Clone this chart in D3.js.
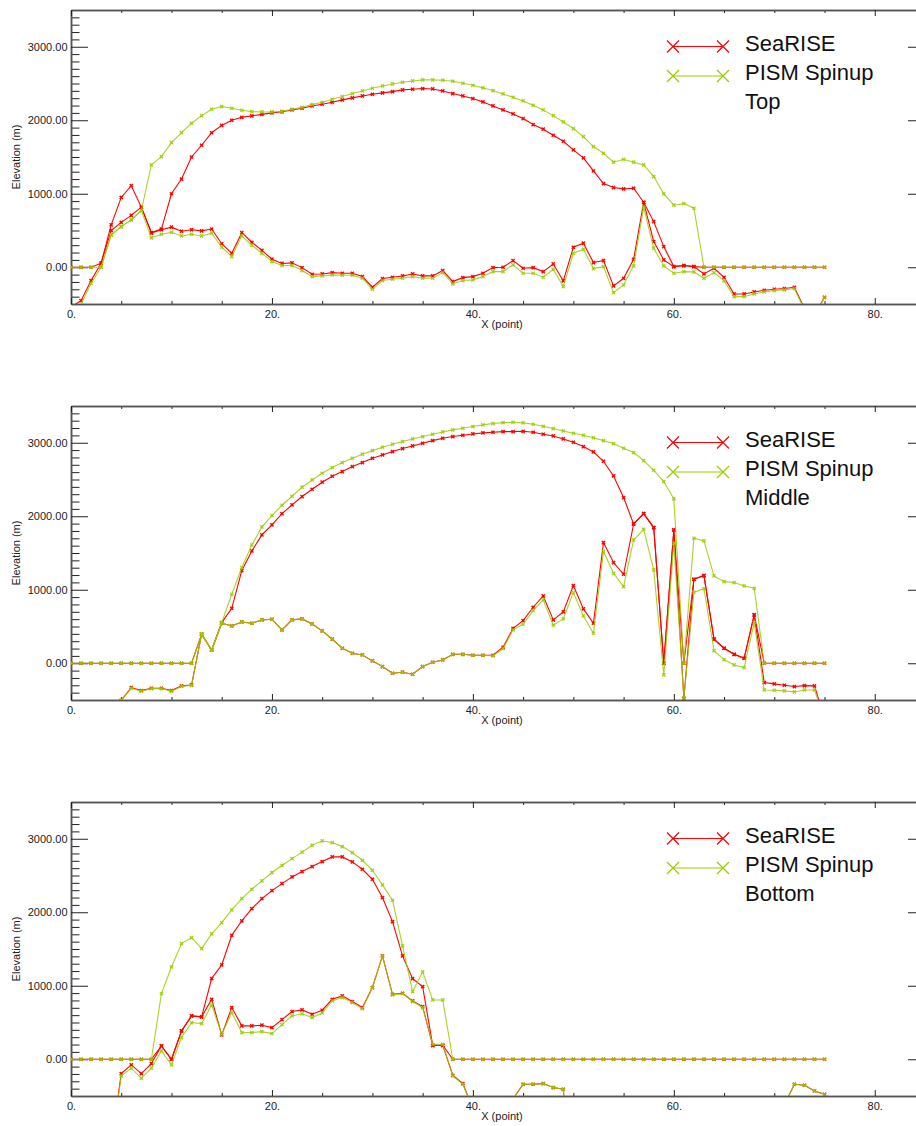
<!DOCTYPE html>
<html>
<head>
<script src="https://cdn.jsdelivr.net/npm/d3@7"></script>
<style>
  body { margin: 0; background: #fff; }
  text { font-family: "Liberation Sans", Arial, Helvetica, sans-serif; }
</style>
</head>
<body>
<div id="chart"></div>
<script>
// elevation profiles, one value per point (x = 0..75)
var searise_top_srf = [0, 0, 0, 55, 577, 950, 1110, 818, 473, 520,
  1000, 1200, 1500, 1660, 1830, 1930, 2000, 2040, 2060, 2080,
  2100, 2115, 2140, 2163, 2195, 2218, 2245, 2277, 2304, 2331,
  2354, 2372, 2390, 2413, 2422, 2431, 2426, 2399, 2363, 2331,
  2295, 2249, 2195, 2141, 2086, 2023, 1941, 1878, 1796, 1714,
  1596, 1488, 1311, 1138, 1084, 1066, 1075, 884, 621, 281,
  9, 23, 9, 0, 0, 0, 0, 0, 0, 0,
  0, 0, 0, 0, 0, 0];
var searise_top_bed = [-540, -455, -180, 55, 500, 610, 705, 818, 465, 510,
  545, 490, 510, 495, 520, 320, 190, 470, 340, 230,
  110, 52, 60, -5, -95, -91, -73, -82, -82, -127,
  -272, -154, -136, -118, -91, -118, -118, -45, -195, -141,
  -127, -82, -5, 0, 91, -14, -5, -59, 45, -186,
  272, 327, 63, 91, -254, -150, 109, 884, 349, 100,
  9, 23, 9, -91, -14, -136, -363, -363, -336, -313,
  -299, -290, -272, -560, -640, -410];
var pism_top_srf = [0, 0, 0, 0, 440, 553, 644, 771, 1392, 1506,
  1696, 1832, 1959, 2063, 2150, 2186, 2163, 2136, 2118, 2113,
  2113, 2122, 2150, 2177, 2213, 2245, 2286, 2322, 2363, 2399,
  2435, 2467, 2494, 2517, 2535, 2549, 2549, 2544, 2531, 2503,
  2476, 2440, 2404, 2358, 2313, 2263, 2204, 2141, 2063, 1977,
  1887, 1778, 1642, 1551, 1429, 1469, 1429, 1392, 1234, 998,
  844, 866, 803, 0, 0, 0, 0, 0, 0, 0,
  0, 0, 0, 0, 0, 0];
var pism_top_bed = [-580, -500, -220, 0, 440, 553, 644, 771, 400, 449,
  476, 426, 449, 426, 463, 272, 145, 426, 299, 190,
  77, 23, 23, -45, -127, -118, -104, -109, -109, -150,
  -299, -181, -163, -150, -127, -150, -150, -73, -227, -181,
  -172, -127, -59, -59, 32, -82, -82, -136, -27, -263,
  190, 245, -18, 9, -345, -240, 18, 816, 259, 18,
  -82, -59, -63, -150, -73, -186, -399, -399, -363, -336,
  -317, -308, -290, -580, -660, -410];

var searise_mid_srf = [0, 0, 0, 0, 0, 0, 0, 0, 0, 0,
  0, 0, 0, 395, 181, 553, 748, 1261, 1528, 1746,
  1882, 2036, 2154, 2268, 2367, 2463, 2544, 2608, 2676, 2730,
  2789, 2834, 2880, 2921, 2957, 2993, 3029, 3061, 3084, 3102,
  3120, 3134, 3143, 3152, 3152, 3156, 3143, 3116, 3093, 3052,
  3007, 2948, 2875, 2748, 2549, 2254, 1896, 2036, 1846, 0,
  1814, 0, 1143, 1193, 327, 204, 122, 68, 658, 0,
  0, 0, 0, 0, 0, 0];
var searise_mid_bed = [-900, -880, -850, -800, -700, -505, -331, -372, -340, -340,
  -372, -308, -295, 395, 181, 544, 508, 562, 544, 590,
  599, 454, 590, 603, 535, 440, 327, 204, 136, 113,
  32, -45, -136, -122, -150, -45, 14, 45, 122, 122,
  109, 109, 109, 218, 476, 580, 762, 916, 590, 698,
  1057, 739, 544, 1642, 1370, 1211, 1896, 2036, 1846, 0,
  1814, -480, 1143, 1193, 327, 204, 122, 68, 658, -263,
  -281, -299, -317, -304, -308, -750];
var pism_mid_srf = [0, 0, 0, 0, 0, 0, 0, 0, 0, 0,
  0, 0, 0, 395, 181, 553, 939, 1302, 1610, 1855,
  2009, 2150, 2272, 2395, 2494, 2585, 2662, 2730, 2789, 2844,
  2893, 2939, 2980, 3016, 3052, 3084, 3116, 3147, 3175, 3197,
  3220, 3243, 3261, 3274, 3279, 3270, 3252, 3224, 3193, 3161,
  3129, 3102, 3068, 3029, 2989, 2925, 2866, 2757, 2626, 2472,
  2236, 0, 1701, 1664, 1188, 1110, 1098, 1052, 1020, 0,
  0, 0, 0, 0, 0, 0];
var pism_mid_bed = [-900, -880, -850, -800, -700, -505, -340, -380, -345, -345,
  -380, -315, -300, 395, 181, 544, 508, 562, 544, 590,
  599, 454, 590, 603, 535, 440, 327, 204, 136, 113,
  32, -45, -136, -122, -150, -45, 14, 45, 122, 122,
  109, 109, 100, 200, 454, 531, 717, 862, 517, 603,
  961, 644, 408, 1519, 1224, 1043, 1678, 1823, 1270, -159,
  1633, -470, 966, 1015, 170, 50, -23, -59, 553, -363,
  -367, -376, -390, -363, -363, -760];

var searise_bot_srf = [0, 0, 0, 0, 0, 0, 0, 0, 0, 181,
  0, 385, 590, 576, 1098, 1283, 1687, 1882, 2050, 2186,
  2295, 2390, 2481, 2553, 2621, 2689, 2753, 2753, 2685, 2585,
  2449, 2200, 1873, 1406, 1097, 989, 190, 190, 0, 0,
  0, 0, 0, 0, 0, 0, 0, 0, 0, 0,
  0, 0, 0, 0, 0, 0, 0, 0, 0, 0,
  0, 0, 0, 0, 0, 0, 0, 0, 0, 0,
  0, 0, 0, 0, 0, 0];
var searise_bot_bed = [-1200, -1200, -1200, -1200, -1200, -195, -77, -195, -59, 181,
  0, 385, 590, 576, 816, 331, 703, 454, 454, 463,
  431, 540, 649, 671, 612, 667, 816, 862, 785, 703,
  975, 1406, 884, 898, 794, 717, 190, 190, -218, -331,
  -670, -1000, -1000, -1000, -540, -340, -340, -331, -385, -408,
  -2000, -2000, -2000, -2000, -2000, -2000, -2000, -2000, -2000, -2000,
  -2000, -2000, -2000, -2000, -2000, -2000, -2000, -2000, -2000, -2000,
  -2000, -620, -340, -354, -431, -476];
var pism_bot_srf = [0, 0, 0, 0, 0, 0, 0, 0, 0, 893,
  1256, 1574, 1655, 1506, 1705, 1859, 2032, 2186, 2313, 2426,
  2540, 2637, 2730, 2818, 2911, 2970, 2948, 2893, 2812, 2707,
  2571, 2372, 2163, 1542, 921, 1188, 807, 807, 0, 0,
  0, 0, 0, 0, 0, 0, 0, 0, 0, 0,
  0, 0, 0, 0, 0, 0, 0, 0, 0, 0,
  0, 0, 0, 0, 0, 0, 0, 0, 0, 0,
  0, 0, 0, 0, 0, 0];
var pism_bot_bed = [-1200, -1200, -1200, -1200, -1200, -227, -122, -259, -122, 113,
  -77, 295, 499, 485, 739, 340, 635, 363, 363, 376,
  349, 470, 590, 618, 567, 630, 794, 839, 771, 689,
  975, 1406, 875, 893, 785, 703, 204, 204, -227, -340,
  -680, -1000, -1000, -1000, -540, -340, -340, -331, -385, -408,
  -2000, -2000, -2000, -2000, -2000, -2000, -2000, -2000, -2000, -2000,
  -2000, -2000, -2000, -2000, -2000, -2000, -2000, -2000, -2000, -2000,
  -2000, -620, -340, -354, -431, -476];

var panelNames = ["Top", "Middle", "Bottom"];
var seriesNames = ["SeaRISE", "PISM Spinup"];
var yMajor = [0, 1000, 2000, 3000];
var xMajor = [0, 20, 40, 60, 80];

var panels = [
  {name: panelNames[0], red: [searise_top_srf, searise_top_bed], green: [pism_top_srf, pism_top_bed]},
  {name: panelNames[1], red: [searise_mid_srf, searise_mid_bed], green: [pism_mid_srf, pism_mid_bed]},
  {name: panelNames[2], red: [searise_bot_srf, searise_bot_bed], green: [pism_bot_srf, pism_bot_bed]}
];

var red = "#ff0000";
var green = "#99cc00";

var width = 916, height = 1126;
var svg = d3.select("#chart").append("svg")
    .attr("width", width)
    .attr("height", height);

var x = d3.scaleLinear().domain([0, 85]).range([71, 925]);

function xmark(s) {
  return "M" + (-s) + "," + (-s) + "L" + s + "," + s + "M" + (-s) + "," + s + "L" + s + "," + (-s);
}

panels.forEach(function(p, k) {
  var top = 10 + 396 * k;
  var bottom = 304 + 396 * k;
  var y = d3.scaleLinear().domain([-500, 3500]).range([bottom, top]);
  var g = svg.append("g");

  g.append("clipPath").attr("id", "clip" + k)
    .append("rect")
      .attr("x", x(0)).attr("y", top)
      .attr("width", x(85) - x(0)).attr("height", bottom - top);

  var minorY = d3.range(-500, 3501, 100).filter(function(v) { return v % 1000 != 0; });
  var minorX = d3.range(0, 86, 5).filter(function(v) { return v % 20 != 0; });

  // left axis
  g.append("g").attr("transform", "translate(" + x(0) + ",0)")
    .call(d3.axisLeft(y).tickValues(minorY).tickSize(-8.5).tickSizeOuter(0).tickFormat(""));
  g.append("g").attr("transform", "translate(" + x(0) + ",0)")
    .call(d3.axisLeft(y).tickValues(yMajor).tickSize(-17).tickSizeOuter(0).tickPadding(3.5)
      .tickFormat(d3.format(".2f")));
  // right axis
  g.append("g").attr("transform", "translate(" + x(85) + ",0)")
    .call(d3.axisRight(y).tickValues(minorY).tickSize(-8.5).tickSizeOuter(0).tickFormat(""));
  g.append("g").attr("transform", "translate(" + x(85) + ",0)")
    .call(d3.axisRight(y).tickValues(yMajor).tickSize(-17).tickSizeOuter(0).tickFormat(""));
  // bottom axis
  g.append("g").attr("transform", "translate(0," + bottom + ")")
    .call(d3.axisBottom(x).tickValues(minorX).tickSize(-3).tickSizeOuter(0).tickFormat(""));
  g.append("g").attr("transform", "translate(0," + bottom + ")")
    .call(d3.axisBottom(x).tickValues(xMajor).tickSize(-6).tickSizeOuter(0).tickPadding(6)
      .tickFormat(function(d) { return d + "."; }));
  // top axis
  g.append("g").attr("transform", "translate(0," + top + ")")
    .call(d3.axisTop(x).tickValues(minorX).tickSize(-3).tickSizeOuter(0).tickFormat(""));
  g.append("g").attr("transform", "translate(0," + top + ")")
    .call(d3.axisTop(x).tickValues(xMajor).tickSize(-6).tickSizeOuter(0).tickFormat(""));

  g.selectAll(".domain").attr("stroke", "#555").attr("stroke-width", 1.5);
  g.selectAll(".tick line").attr("stroke", "#222");
  g.selectAll(".tick text").attr("font-size", 11).attr("fill", "#222")
    .attr("font-family", "'Liberation Sans', Arial, sans-serif");

  g.append("text")
    .attr("transform", "translate(20," + ((top + bottom) / 2) + ") rotate(-90)")
    .attr("text-anchor", "middle")
    .attr("font-size", 11).attr("fill", "#222")
    .text("Elevation (m)");
  g.append("text")
    .attr("x", (x(0) + x(85)) / 2 + 4).attr("y", bottom + 24)
    .attr("text-anchor", "middle")
    .attr("font-size", 11).attr("fill", "#222")
    .text("X (point)");

  // data
  var plot = g.append("g").attr("clip-path", "url(#clip" + k + ")");
  var line = d3.line()
    .x(function(d, i) { return x(i); })
    .y(function(d) { return y(d); });

  var groups = [{color: red, data: p.red, op: 1}, {color: green, data: p.green, op: 0.85}];
  groups.forEach(function(s) {
    s.data.forEach(function(arr) {
      plot.append("path")
        .datum(arr)
        .attr("fill", "none")
        .attr("stroke", s.color)
        .attr("stroke-opacity", s.op)
        .attr("stroke-width", 1.1)
        .attr("d", line);
      plot.selectAll(null)
        .data(arr)
        .enter()
        .append("path")
        .attr("transform", function(d, i) { return "translate(" + x(i) + "," + y(d) + ")"; })
        .attr("d", xmark(1.6))
        .attr("stroke", s.color)
        .attr("stroke-opacity", s.op)
        .attr("stroke-width", 1.4)
        .attr("fill", "none");
    });
  });

  // legend
  var leg = g.append("g").attr("transform", "translate(0," + (396 * k) + ")");
  [red, green].forEach(function(c, j) {
    var ly = 46.5 + 29.5 * j;
    leg.append("line")
      .attr("x1", 673).attr("x2", 723).attr("y1", ly).attr("y2", ly)
      .attr("stroke", c).attr("stroke-width", 1);
    [673, 723].forEach(function(mx) {
      leg.append("path")
        .attr("transform", "translate(" + mx + "," + ly + ")")
        .attr("d", xmark(6))
        .attr("stroke", c).attr("stroke-width", 1.2).attr("fill", "none");
    });
    leg.append("text")
      .attr("x", 745).attr("y", 51 + 29 * j)
      .attr("font-size", 22).attr("fill", "#111")
      .text(seriesNames[j]);
  });
  leg.append("text")
    .attr("x", 745).attr("y", 108.5)
    .attr("font-size", 22).attr("fill", "#111")
    .text(p.name);
});
</script>
</body>
</html>
